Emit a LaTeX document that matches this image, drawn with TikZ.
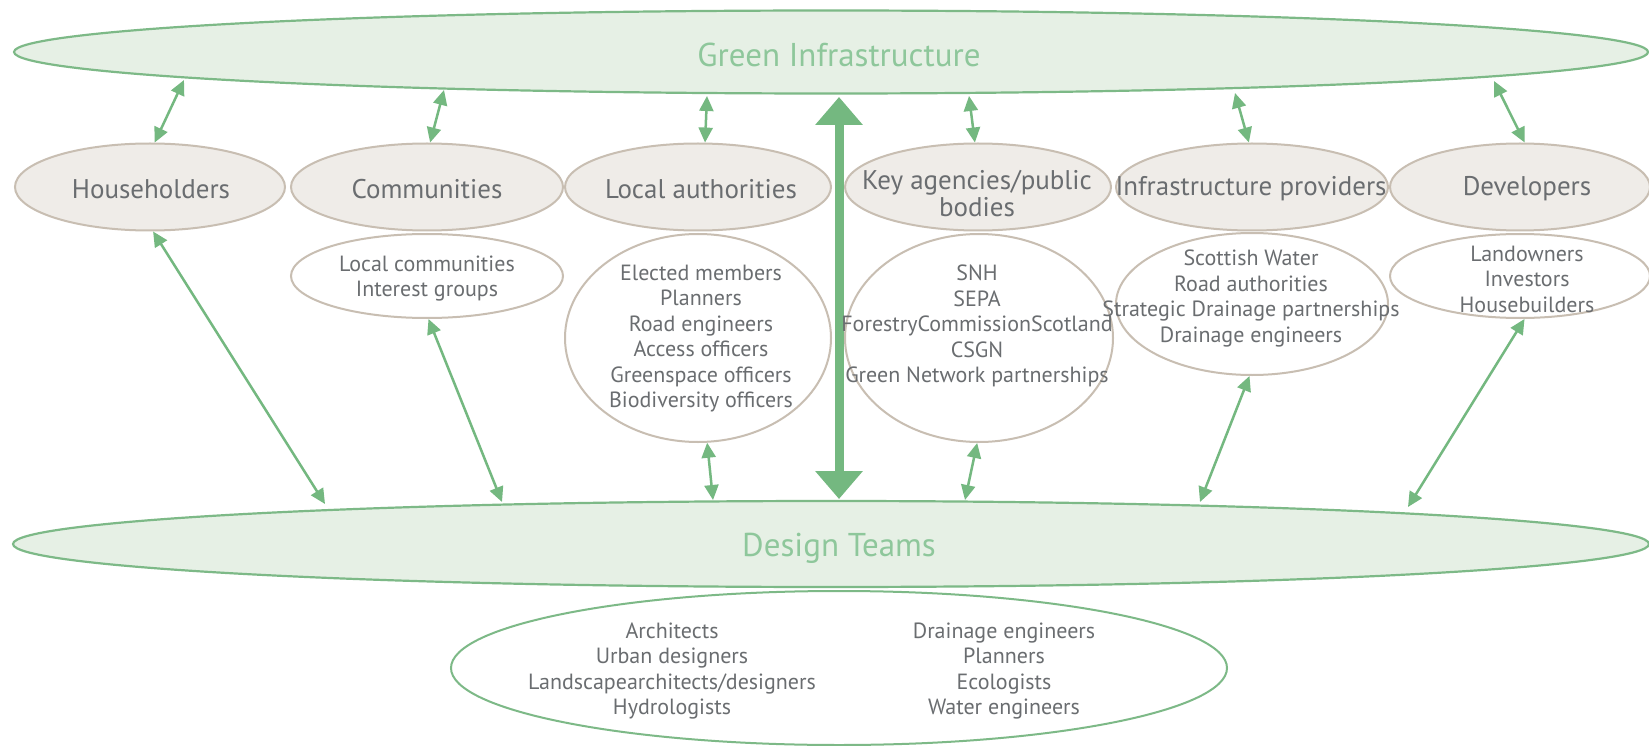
\documentclass[tikz,border=0pt]{standalone}
\usepackage{fontspec}
\setmainfont{PT Sans}
\usetikzlibrary{shapes.geometric,arrows.meta,calc}
\definecolor{gfill}{HTML}{E6F0E5}
\definecolor{gline}{HTML}{7DB987}
\definecolor{gtext}{HTML}{8EC79B}
\definecolor{bfill}{HTML}{EFECE8}
\definecolor{bline}{HTML}{C8BEB2}
\definecolor{ttext}{HTML}{6A6D70}
\definecolor{arrc}{HTML}{74B880}
\begin{document}
\begin{tikzpicture}[x=1pt,y=-1pt,
  bigell/.style={ellipse, draw=gline, fill=gfill, line width=2.2pt, inner sep=0pt},
  role/.style={ellipse, draw=bline, fill=bfill, line width=2pt, inner sep=0pt},
  subell/.style={ellipse, draw=bline, fill=white, line width=2pt, inner sep=0pt},
  teamell/.style={ellipse, draw=gline, fill=white, line width=2pt, inner sep=0pt},
  biglbl/.style={text=gtext, font=\fontsize{33}{35}\selectfont, inner sep=0pt},
  lbl/.style={text=ttext, align=center, font=\fontsize{27}{27}\selectfont, inner sep=0pt},
  sublbl/.style={text=ttext, align=center, font=\fontsize{22}{25.5}\selectfont, inner sep=0pt},
  twoway/.style={draw=arrc, line width=2.5pt, {Triangle[length=15pt,width=14pt]}-{Triangle[length=15pt,width=14pt]}},
  bigway/.style={draw=arrc, line width=9pt, {Triangle[length=28pt,width=46pt]}-{Triangle[length=28pt,width=46pt]}},
]
\useasboundingbox[fill=white] (0,0) rectangle (1649,746);

% big ellipses
\node[bigell, minimum width=1634, minimum height=83] (gi) at (831,52) {};
\node[bigell, minimum width=1636, minimum height=86] (dt) at (831,544) {};
\node[teamell, minimum width=776, minimum height=154] (team) at (839,668) {};

% role ellipses
\node[role, minimum width=270, minimum height=87] (hh) at (150,187) {};
\node[role, minimum width=272, minimum height=87] (co) at (427,187) {};
\node[role, minimum width=266, minimum height=87] (la) at (698,187) {};
\node[role, minimum width=266, minimum height=87] (ka) at (978,187) {};
\node[role, minimum width=272, minimum height=87] (ip) at (1252,187) {};
\node[role, minimum width=260, minimum height=87] (dv) at (1520,187) {};

% sub ellipses
\node[subell, minimum width=272, minimum height=84] (lc) at (427,276) {};
\node[subell, minimum width=266, minimum height=208] (lac) at (698,338) {};
\node[subell, minimum width=268, minimum height=208] (kac) at (979,338) {};
\node[subell, minimum width=272, minimum height=142] (ipc) at (1252,304) {};
\node[subell, minimum width=260, minimum height=84] (dvc) at (1520,276) {};

% coordinates on the big ellipses
\coordinate (gi-hh) at ($(gi.center)+(-647,28)$);
\coordinate (gi-co) at ($(gi.center)+(-387,38)$);
\coordinate (gi-la) at ($(gi.center)+(-124,44)$);
\coordinate (gi-ka) at ($(gi.center)+(138,44)$);
\coordinate (gi-ip) at ($(gi.center)+(404,41)$);
\coordinate (gi-dv) at ($(gi.center)+(663,29)$);
\coordinate (gi-big) at ($(gi.center)+(8,45)$);
\coordinate (dt-big) at ($(dt.center)+(8,-45)$);
\coordinate (dt-hh) at ($(dt.center)+(-506,-40)$);
\coordinate (dt-lc) at ($(dt.center)+(-329,-42)$);
\coordinate (dt-la) at ($(dt.center)+(-118,-44)$);
\coordinate (dt-ka) at ($(dt.center)+(134,-44)$);
\coordinate (dt-ip) at ($(dt.center)+(369,-42)$);
\coordinate (dt-dv) at ($(dt.center)+(577,-37)$);

% arrows
\draw[twoway] (hh.84) -- (gi-hh);
\draw[twoway] (co.86) -- (gi-co);
\draw[twoway] (la.81) -- (gi-la);
\draw[twoway] (ka.94) -- (gi-ka);
\draw[twoway] (ip.94) -- (gi-ip);
\draw[twoway] (dv.84) -- (gi-dv);
\draw[bigway] (gi-big) -- (dt-big);
\draw[twoway] (hh.-86) -- (dt-hh);
\draw[twoway] (lc.-88) -- (dt-lc);
\draw[twoway] (lac.-85) -- (dt-la);
\draw[twoway] (kac.-91) -- (dt-ka);
\draw[twoway] (ipc.-92) -- (dt-ip);
\draw[twoway] (dvc.-84) -- (dt-dv);

% labels
\node[biglbl] (gi-t) at (839,55) {Green Infrastructure};
\node[biglbl] (dt-t) at (839,548) {Design Teams};
\node[lbl] (hh-t) at (151,189) {Householders};
\node[lbl] (co-t) at (427,189) {Communities};
\node[lbl] (la-t) at (701,189) {Local authorities};
\node[lbl] (ka-t) at (977,194) {Key agencies/public\\bodies};
\node[lbl] (ip-t) at (1251,189) {Infrastructure providers};
\node[lbl] (dv-t) at (1527,189) {Developers};

\node[sublbl] (lc-t) at (427,278.5) {Local communities\\Interest groups};
\node[sublbl] (lac-t) at (701,338.5) {Elected members\\Planners\\Road engineers\\Access officers\\Greenspace officers\\Biodiversity officers};
\node[sublbl] (kac-t) at (977,326) {SNH\\SEPA\\ForestryCommissionScotland\\CSGN\\Green Network partnerships};
\node[sublbl] (ipc-t) at (1251,298.5) {Scottish Water\\Road authorities\\Strategic Drainage partnerships\\Drainage engineers};
\node[sublbl] (dvc-t) at (1527,279) {Landowners\\Investors\\Housebuilders};

\node[sublbl] (team-l) at (672,671) {Architects\\Urban designers\\Landscapearchitects/designers\\Hydrologists};
\node[sublbl] (team-r) at (1004,671) {Drainage engineers\\Planners\\Ecologists\\Water engineers};
\end{tikzpicture}
\end{document}
